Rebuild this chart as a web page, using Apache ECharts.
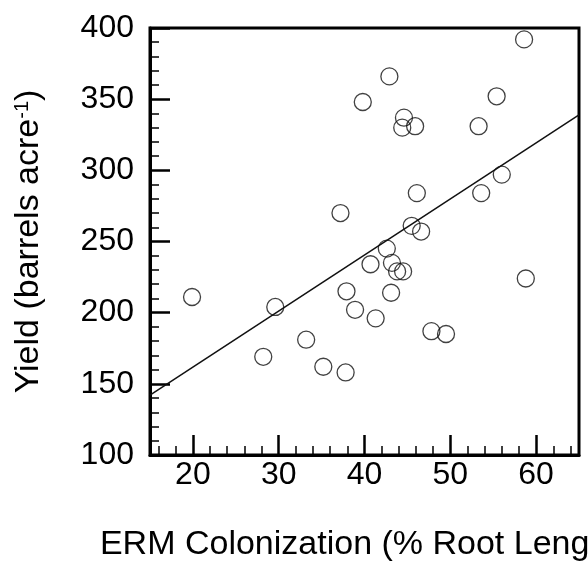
<!DOCTYPE html>
<html>
<head>
<meta charset="utf-8">
<script src="https://cdn.jsdelivr.net/npm/echarts@6/dist/echarts.min.js"></script>
<style>
  html, body { margin: 0; padding: 0; background: #fff; }
  #chart { width: 588px; height: 565px; }
</style>
</head>
<body>
<div id="chart"></div>
<script>
// ERM colonization (% root length) vs yield
const ermX = [58.6, 42.9, 39.8, 44.6, 44.4, 45.9, 55.4, 53.3, 56.0, 46.1, 53.6, 37.2, 45.5, 46.6, 42.6, 40.7,
  43.2, 43.8, 44.5, 58.8, 19.9, 37.9, 43.1, 29.6, 38.9, 41.3, 47.8, 49.5, 33.2, 28.2, 35.2, 37.8]
const yieldY = [392, 366, 348, 337, 330, 331, 352, 331, 297, 284, 284, 270, 261, 257, 245, 234,
  235, 229, 229, 224, 211, 215, 214, 204, 202, 196, 187, 185, 181, 169, 162, 158]

// regression line end points
const fitX = [15, 65]
const fitY = [142, 339]

// x axis ticks
const majorX = [20, 30, 40, 50, 60]
const minorX = [16, 18, 22, 24, 26, 28, 32, 34, 36, 38, 42, 44, 46, 48, 52, 54, 56, 58, 62, 64]

const font = 'Liberation Sans, Arial, Helvetica, sans-serif'

const chart = echarts.init(document.getElementById('chart'))
chart.setOption({
  animation: false,
  grid: {
    left: 150, right: 9, top: 28, bottom: 110,
    show: true, borderColor: '#000', borderWidth: 3,
    outerBoundsMode: 'none'
  },
  xAxis: [{
    type: 'value',
    min: 15, max: 65,
    name: 'ERM Colonization (% Root Length)',
    nameLocation: 'middle',
    nameGap: 73,
    nameTextStyle: { fontSize: 34, color: '#000', fontFamily: font },
    axisLine: { lineStyle: { color: '#000', width: 3 } },
    axisTick: { inside: true, length: 20, customValues: majorX, lineStyle: { color: '#000', width: 2.5 } },
    axisLabel: { customValues: majorX, fontSize: 32, color: '#000', fontFamily: font, margin: 4 },
    splitLine: { show: false }
  }, {
    type: 'value',
    position: 'bottom',
    min: 15, max: 65,
    axisLine: { show: false },
    axisTick: { inside: true, length: 9, customValues: minorX, lineStyle: { color: '#000', width: 1.5 } },
    axisLabel: { show: false },
    splitLine: { show: false }
  }],
  yAxis: {
    type: 'value',
    min: 100, max: 400, interval: 50,
    name: 'Yield (barrels acre{sup|-1})',
    nameLocation: 'middle',
    nameGap: 104,
    nameTextStyle: {
      fontSize: 34, color: '#000', fontFamily: font,
      rich: { sup: { fontSize: 20, color: '#000', fontFamily: font, verticalAlign: 'top' } }
    },
    axisLine: { lineStyle: { color: '#000', width: 3 } },
    axisTick: { inside: true, length: 20, lineStyle: { color: '#000', width: 2.5 } },
    minorTick: { show: true, splitNumber: 5, length: 9, lineStyle: { color: '#000', width: 1.5 } },
    axisLabel: { fontSize: 32, color: '#000', fontFamily: font, margin: 16, padding: [5, 0, 0, 0] },
    splitLine: { show: false }
  },
  series: [{
    type: 'line',
    data: fitX.map((x, i) => [x, fitY[i]]),
    symbol: 'none',
    lineStyle: { color: '#111', width: 1.5 },
    z: 4
  }, {
    type: 'scatter',
    data: ermX.map((x, i) => [x, yieldY[i]]),
    symbol: 'circle',
    symbolSize: 17,
    itemStyle: { color: 'rgba(0,0,0,0)', borderColor: '#111', borderWidth: 1.3 },
    z: 3
  }]
})
</script>
</body>
</html>
